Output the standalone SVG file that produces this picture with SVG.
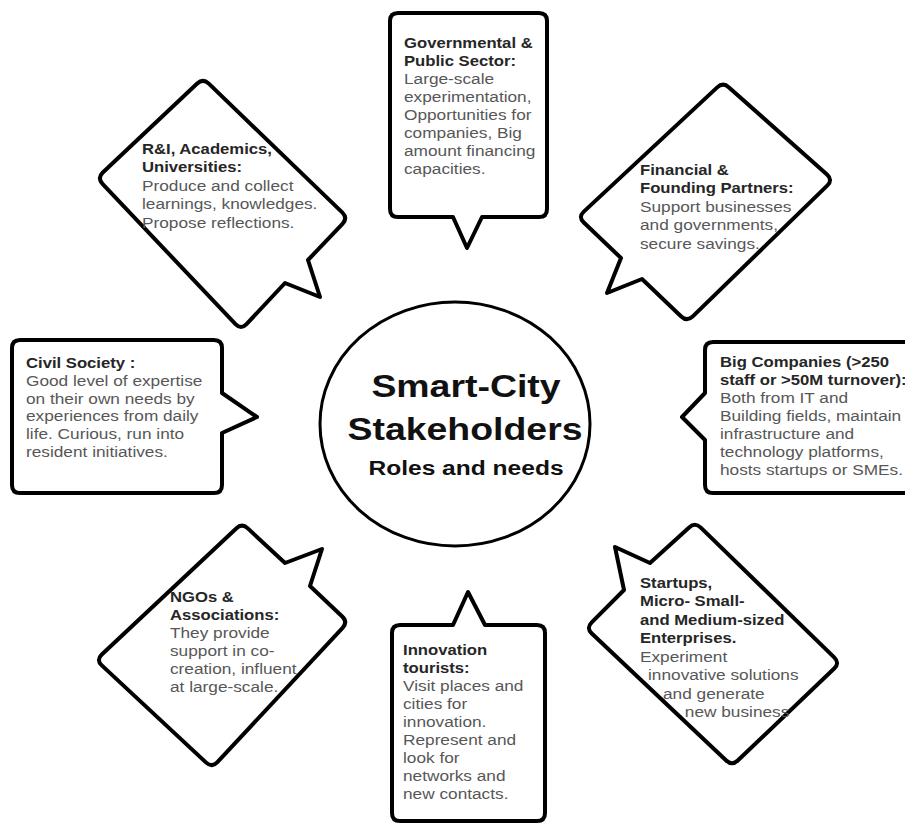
<svg xmlns="http://www.w3.org/2000/svg" width="905" height="825" viewBox="0 0 905 825">
<style>
.shape{fill:#fff;stroke:#000;stroke-width:4;stroke-linejoin:round}
.ell{fill:#fff;stroke:#000;stroke-width:3}
text{font-family:"Liberation Sans",Arial,Helvetica,sans-serif}
.h{font-size:14.5px;font-weight:bold;fill:#262626}
.b{font-size:15px;fill:#575757}
.c1{font-size:32px;font-weight:bold;fill:#111;text-anchor:middle}
.c2{font-size:21px;font-weight:bold;fill:#111;text-anchor:middle}
</style>
<rect width="905" height="825" fill="#fff"/>
<g id="connectors"/>

<g id="center">
<ellipse class="ell" cx="455" cy="424" rx="135" ry="122"/>
<text class="c1" transform="translate(466,397) scale(1.17,1)">Smart-City</text>
<text class="c1" transform="translate(465,440) scale(1.17,1)">Stakeholders</text>
<text class="c2" transform="translate(466,475) scale(1.17,1)">Roles and needs</text>
</g>

<g id="governmental">
<path class="shape" d="M398,13 H539 Q547,13 547,21 V209 Q547,217 539,217 H482 L467,248 L453,217 H398 Q390,217 390,209 V21 Q390,13 398,13 Z"/>
<text transform="translate(404,48) scale(1.15,1)"><tspan class="h" x="0" dy="0">Governmental &amp;</tspan><tspan class="h" x="0" dy="18">Public Sector:</tspan><tspan class="b" x="0" dy="18">Large-scale</tspan><tspan class="b" x="0" dy="18">experimentation,</tspan><tspan class="b" x="0" dy="18">Opportunities for</tspan><tspan class="b" x="0" dy="18">companies, Big</tspan><tspan class="b" x="0" dy="18">amount financing</tspan><tspan class="b" x="0" dy="18">capacities.</tspan></text>
</g>

<g id="research">
<path class="shape" d="M208.8,83.6 L342.2,212.4 Q348,218 342.5,223.8 L308,260 L320,297 L285,283 L246.5,324.2 Q241,330 235.5,324.2 L102.5,183.8 Q97,178 102.8,172.5 L197.2,83.5 Q203,78 208.8,83.6 Z"/>
<text transform="translate(142,154) scale(1.15,1)"><tspan class="h" x="0" dy="0">R&amp;I, Academics,</tspan><tspan class="h" x="0" dy="18.5">Universities:</tspan><tspan class="b" x="0" dy="18.5">Produce and collect</tspan><tspan class="b" x="0" dy="18.5">learnings, knowledges.</tspan><tspan class="b" x="0" dy="18.5">Propose reflections.</tspan></text>
</g>

<g id="financial">
<path class="shape" d="M729,87.4 L827,174.6 Q833,180 827.2,185.6 L692.8,316.4 Q687,322 681.2,316.5 L642,279 L607,293 L621,258 L583.8,222.5 Q578,217 583.8,211.6 L717.2,87.4 Q723,82 729,87.4 Z"/>
<text transform="translate(640,175) scale(1.15,1)"><tspan class="h" x="0" dy="0">Financial &amp;</tspan><tspan class="h" x="0" dy="18.5">Founding Partners:</tspan><tspan class="b" x="0" dy="18.5">Support businesses</tspan><tspan class="b" x="0" dy="18.5">and governments,</tspan><tspan class="b" x="0" dy="18.5">secure savings.</tspan></text>
</g>

<g id="civil">
<path class="shape" d="M20,340 H214 Q222,340 222,348 V393 L257,417 L222,433 V485 Q222,493 214,493 H20 Q12,493 12,485 V348 Q12,340 20,340 Z"/>
<text transform="translate(26,368) scale(1.15,1)"><tspan class="h" x="0" dy="0">Civil Society :</tspan><tspan class="b" x="0" dy="17.8">Good level of expertise</tspan><tspan class="b" x="0" dy="17.8">on their own needs by</tspan><tspan class="b" x="0" dy="17.8">experiences from daily</tspan><tspan class="b" x="0" dy="17.8">life. Curious, run into</tspan><tspan class="b" x="0" dy="17.8">resident initiatives.</tspan></text>
</g>

<g id="bigcompanies">
<path class="shape" d="M713,342 H912 V493 H713 Q705,493 705,485 V440 L682,417 L705,393 V350 Q705,342 713,342 Z"/>
<text transform="translate(720,367) scale(1.15,1)"><tspan class="h" x="0" dy="0">Big Companies (&gt;250</tspan><tspan class="h" x="0" dy="18">staff or &gt;50M turnover):</tspan><tspan class="b" x="0" dy="18">Both from IT and</tspan><tspan class="b" x="0" dy="18">Building fields, maintain</tspan><tspan class="b" x="0" dy="18">infrastructure and</tspan><tspan class="b" x="0" dy="18">technology platforms,</tspan><tspan class="b" x="0" dy="18">hosts startups or SMEs.</tspan></text>
</g>

<g id="ngos">
<path class="shape" d="M247.8,528.4 L285,563 L322,549 L310,586 L342.2,616.5 Q348,622 342.6,627.8 L217.4,762.2 Q212,768 206.2,762.6 L101.8,665.4 Q96,660 101.8,654.5 L236.2,528.5 Q242,523 247.8,528.4 Z"/>
<text transform="translate(170,602) scale(1.15,1)"><tspan class="h" x="0" dy="0">NGOs &amp;</tspan><tspan class="h" x="0" dy="18">Associations:</tspan><tspan class="b" x="0" dy="18">They provide</tspan><tspan class="b" x="0" dy="18">support in co-</tspan><tspan class="b" x="0" dy="18">creation, influent</tspan><tspan class="b" x="0" dy="18">at large-scale.</tspan></text>
</g>

<g id="innovation">
<path class="shape" d="M400,625 H453 L468,592 L485,625 H537 Q545,625 545,633 V813 Q545,821 537,821 H400 Q392,821 392,813 V633 Q392,625 400,625 Z"/>
<text transform="translate(403,655) scale(1.15,1)"><tspan class="h" x="0" dy="0">Innovation</tspan><tspan class="h" x="0" dy="18">tourists:</tspan><tspan class="b" x="0" dy="18">Visit places and</tspan><tspan class="b" x="0" dy="18">cities for</tspan><tspan class="b" x="0" dy="18">innovation.</tspan><tspan class="b" x="0" dy="18">Represent and</tspan><tspan class="b" x="0" dy="18">look for</tspan><tspan class="b" x="0" dy="18">networks and</tspan><tspan class="b" x="0" dy="18">new contacts.</tspan></text>
</g>

<g id="startups">
<path class="shape" d="M700.8,527.6 L834.2,657.4 Q840,663 834.2,668.5 L737.8,760.5 Q732,766 726.2,760.5 L591.8,633.5 Q586,628 591.7,622.3 L624,590 L615,547 L650,563 L689.1,527.4 Q695,522 700.8,527.6 Z"/>
<text transform="translate(640,588) scale(1.15,1)"><tspan class="h" x="0" dy="0">Startups,</tspan><tspan class="h" x="0" dy="18.5">Micro- Small-</tspan><tspan class="h" x="0" dy="18.5">and Medium-sized</tspan><tspan class="h" x="0" dy="18.5">Enterprises.</tspan><tspan class="b" x="0" dy="18.5">Experiment</tspan><tspan class="b" x="7" dy="18.5">innovative solutions</tspan><tspan class="b" x="20" dy="18.5">and generate</tspan><tspan class="b" x="39" dy="18.5">new business</tspan></text>
</g>
</svg>
